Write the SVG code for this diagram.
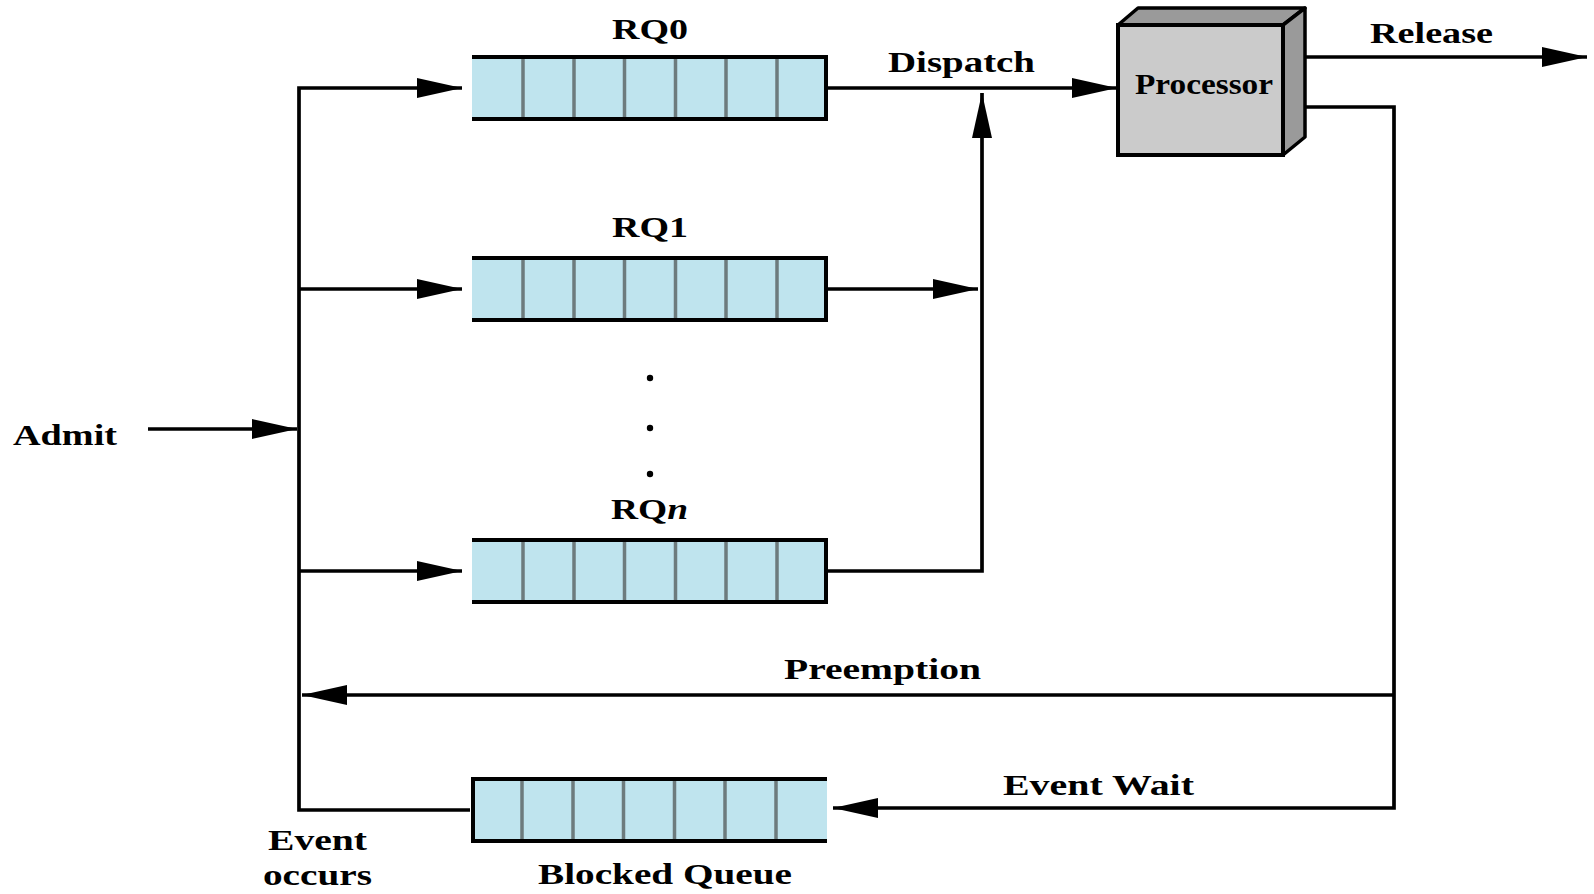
<svg xmlns="http://www.w3.org/2000/svg" xmlns:xlink="http://www.w3.org/1999/xlink" width="1594" height="894" viewBox="0 0 1594 894">
  <style>
    .lbl { font-family: "Liberation Serif", "Times New Roman", serif; font-weight: bold; font-size: 30px; fill: #000; }
    .wire { fill: none; stroke: #000; stroke-width: 3.7; }
    .edge { stroke: #000; stroke-width: 4; }
    .cell { stroke: #6d7b7d; stroke-width: 3.5; }
  </style>
  <defs>
    <marker id="arrow" viewBox="0 0 45 20" refX="45" refY="10" markerWidth="45" markerHeight="20" markerUnits="userSpaceOnUse" orient="auto">
      <path d="M0 0 L45 10 L0 20 Z" fill="#000"/>
    </marker>
    <!-- seven-slot queue body: fill, cell dividers, top and bottom rails -->
    <g id="queue">
      <rect x="0" y="0" width="356" height="66" fill="#bfe4ee"/>
      <line class="cell" x1="51" y1="2" x2="51" y2="64"/>
      <line class="cell" x1="102" y1="2" x2="102" y2="64"/>
      <line class="cell" x1="152.5" y1="2" x2="152.5" y2="64"/>
      <line class="cell" x1="203.5" y1="2" x2="203.5" y2="64"/>
      <line class="cell" x1="254" y1="2" x2="254" y2="64"/>
      <line class="cell" x1="305" y1="2" x2="305" y2="64"/>
      <line class="edge" x1="0" y1="2" x2="356" y2="2"/>
      <line class="edge" x1="0" y1="64" x2="356" y2="64"/>
    </g>
  </defs>

  <rect width="1594" height="894" fill="#fff"/>

  <!-- connectors -->
  <g id="connectors">
    <path class="wire" d="M148 429 H297" marker-end="url(#arrow)"/>
    <path class="wire" d="M470 810 H299 V88 H462" marker-end="url(#arrow)"/>
    <path class="wire" d="M299 289 H462" marker-end="url(#arrow)"/>
    <path class="wire" d="M299 571 H462" marker-end="url(#arrow)"/>
    <path class="wire" d="M828 88 H1117" marker-end="url(#arrow)"/>
    <path class="wire" d="M828 289 H978" marker-end="url(#arrow)"/>
    <path class="wire" d="M828 571 H982 V93" marker-end="url(#arrow)"/>
    <path class="wire" d="M1295 57 H1587" marker-end="url(#arrow)"/>
    <path class="wire" d="M1295 107 H1394 V808 H833" marker-end="url(#arrow)"/>
    <path class="wire" d="M1394 695 H302" marker-end="url(#arrow)"/>
  </g>

  <!-- ready queues -->
  <g id="rq0">
    <use xlink:href="#queue" href="#queue" x="472" y="55"/>
    <line class="edge" x1="826" y1="55" x2="826" y2="121"/>
    <text class="lbl" x="612" y="39" textLength="76" lengthAdjust="spacingAndGlyphs">RQ0</text>
  </g>
  <g id="rq1">
    <use xlink:href="#queue" href="#queue" x="472" y="256"/>
    <line class="edge" x1="826" y1="256" x2="826" y2="322"/>
    <text class="lbl" x="612" y="237" textLength="76" lengthAdjust="spacingAndGlyphs">RQ1</text>
  </g>
  <g id="ellipsis">
    <circle cx="650" cy="378" r="3.2" fill="#000"/>
    <circle cx="650" cy="428" r="3.2" fill="#000"/>
    <circle cx="650" cy="474" r="3.2" fill="#000"/>
  </g>
  <g id="rqn">
    <use xlink:href="#queue" href="#queue" x="472" y="538"/>
    <line class="edge" x1="826" y1="538" x2="826" y2="604"/>
    <text class="lbl" x="611" y="519" textLength="77" lengthAdjust="spacingAndGlyphs">RQ<tspan font-style="italic">n</tspan></text>
  </g>

  <!-- blocked queue, output on the left -->
  <g id="blocked">
    <use xlink:href="#queue" href="#queue" x="471" y="777"/>
    <line class="edge" x1="473" y1="777" x2="473" y2="843"/>
    <text class="lbl" x="538" y="884" textLength="254" lengthAdjust="spacingAndGlyphs">Blocked Queue</text>
  </g>

  <!-- processor block -->
  <g id="processor">
    <polygon points="1118,25 1138,8 1305,8 1283,25" fill="#9a9a9a" stroke="#000" stroke-width="3.5" stroke-linejoin="round"/>
    <polygon points="1283,25 1305,8 1305,137 1283,155" fill="#9a9a9a" stroke="#000" stroke-width="3.5" stroke-linejoin="round"/>
    <rect x="1118" y="25" width="165" height="130" fill="#cbcbcb" stroke="#000" stroke-width="4"/>
    <text class="lbl" x="1135" y="94" textLength="138" lengthAdjust="spacingAndGlyphs">Processor</text>
  </g>

  <!-- transition labels -->
  <g id="labels">
    <text class="lbl" x="13" y="445" textLength="104" lengthAdjust="spacingAndGlyphs">Admit</text>
    <text class="lbl" x="888" y="72" textLength="147" lengthAdjust="spacingAndGlyphs">Dispatch</text>
    <text class="lbl" x="1370" y="43" textLength="123" lengthAdjust="spacingAndGlyphs">Release</text>
    <text class="lbl" x="784" y="679" textLength="197" lengthAdjust="spacingAndGlyphs">Preemption</text>
    <text class="lbl" x="1003" y="795" textLength="191" lengthAdjust="spacingAndGlyphs">Event Wait</text>
    <text class="lbl" x="268" y="850" textLength="99" lengthAdjust="spacingAndGlyphs">Event</text>
    <text class="lbl" x="263" y="885" textLength="109" lengthAdjust="spacingAndGlyphs">occurs</text>
  </g>
</svg>
